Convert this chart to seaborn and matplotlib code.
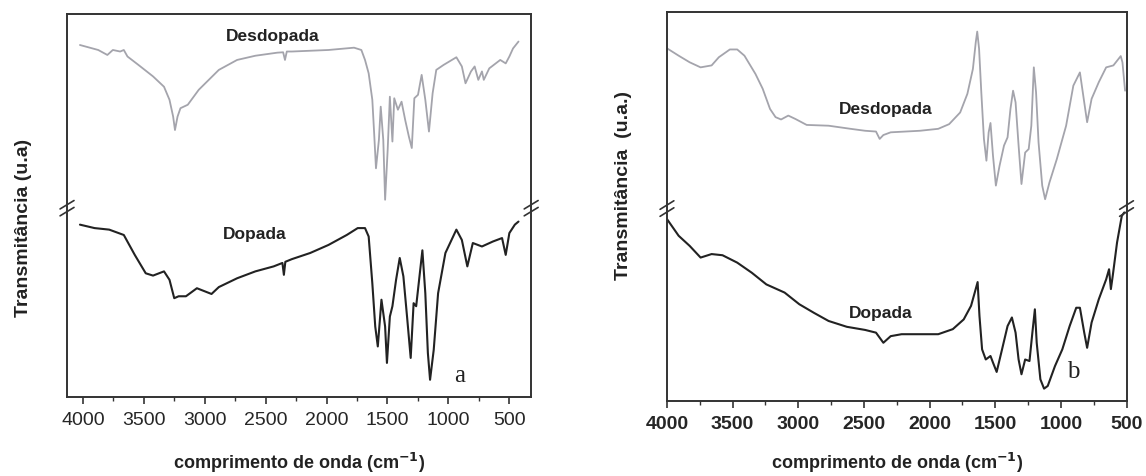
import matplotlib
matplotlib.use("Agg")
import matplotlib.pyplot as plt
import seaborn as sns
import pandas as pd
from matplotlib.ticker import MultipleLocator

# painel a: espectros (transmitancia em u.a., 0-100)
wn_a_desd = [4024, 3874, 3799, 3754, 3694, 3664, 3634, 3544, 3424, 3334, 3289, 3259, 3244, 3223,
             3199, 3139, 3049, 2884, 2734, 2584, 2404, 2356, 2341, 2326, 2284, 1984, 1774, 1714,
             1684, 1654, 1624, 1609, 1594, 1570, 1555, 1534, 1519, 1498, 1480, 1459, 1444, 1414,
             1384, 1354, 1324, 1300, 1279, 1249, 1219, 1189, 1159, 1129, 1099, 1039, 934, 889,
             859, 814, 784, 754, 724, 709, 664, 574, 529, 499, 469, 424]
t_a_desd = [91.9, 90.6, 89.3, 90.6, 90.2, 90.6, 88.9, 86.7, 83.7, 81.0, 77.6, 73.2, 69.7, 73.2,
            75.4, 76.3, 80.2, 85.4, 88.0, 89.1, 89.9, 90.0, 88.0, 90.2, 90.2, 90.6, 91.2, 90.6,
            88.0, 84.5, 77.6, 68.9, 59.7, 67.1, 75.8, 67.1, 51.5, 64.5, 78.4, 66.7, 78.0, 75.0,
            77.1, 72.3, 68.0, 65.0, 78.0, 78.9, 84.1, 77.6, 69.3, 79.3, 85.4, 86.7, 88.7, 86.3,
            81.9, 85.0, 86.3, 82.8, 85.0, 82.8, 85.8, 88.0, 87.1, 88.9, 91.0, 92.8]

wn_a_dop = [4024, 3904, 3784, 3664, 3574, 3484, 3424, 3334, 3289, 3250, 3214, 3154, 3064, 2944,
            2884, 2734, 2584, 2434, 2362, 2350, 2338, 2284, 2134, 1984, 1834, 1744, 1684, 1654,
            1624, 1600, 1579, 1549, 1519, 1504, 1480, 1459, 1429, 1399, 1369, 1339, 1309, 1285,
            1264, 1234, 1213, 1189, 1168, 1150, 1120, 1084, 1024, 934, 889, 844, 799, 724, 634,
            559, 529, 499, 454, 424]
t_a_dop = [45.0, 44.1, 43.7, 42.3, 37.1, 32.3, 31.7, 32.8, 30.6, 25.8, 26.3, 26.3, 28.4, 26.9,
           28.7, 31.0, 32.8, 34.1, 35.0, 31.9, 35.3, 36.0, 37.6, 39.7, 42.3, 44.1, 44.1, 41.9,
           29.7, 18.4, 13.2, 25.4, 18.4, 8.9, 21.0, 23.7, 30.6, 36.3, 31.5, 21.0, 10.2, 24.5,
           23.7, 32.3, 38.3, 27.1, 11.5, 4.5, 12.3, 27.1, 37.6, 43.7, 41.0, 34.1, 40.2, 39.3, 40.6,
           41.5, 37.1, 42.8, 45.0, 45.8]

# painel b
wn_b_desd = [4000, 3911, 3827, 3744, 3660, 3605, 3521, 3465, 3410, 3326, 3271, 3215, 3173, 3131,
             3076, 3020, 2936, 2769, 2602, 2491, 2408, 2380, 2352, 2296, 2073, 1934, 1851, 1767,
             1712, 1670, 1648, 1637, 1623, 1606, 1586, 1567, 1550, 1536, 1517, 1495, 1467, 1433,
             1406, 1384, 1364, 1345, 1322, 1300, 1272, 1245, 1225, 1206, 1189, 1170, 1142, 1120,
             1087, 1031, 960, 905, 855, 822, 800, 766, 711, 655, 600, 544, 531, 511]
t_b_desd = [90.7, 88.8, 87.1, 85.8, 86.3, 88.4, 90.4, 90.4, 88.8, 84.1, 80.3, 75.1, 73.0, 72.4,
            73.4, 72.5, 71.0, 70.8, 70.0, 69.5, 69.3, 67.4, 68.4, 69.1, 69.5, 70.0, 71.2, 74.2,
            79.0, 85.4, 92.3, 95.0, 90.6, 79.4, 67.4, 61.8, 69.1, 71.5, 63.1, 55.4, 60.5, 65.7,
            67.8, 75.1, 79.8, 76.8, 65.7, 55.8, 63.9, 64.8, 70.8, 85.8, 79.4, 66.5, 55.4, 51.9,
            56.2, 62.2, 70.8, 81.1, 84.5, 76.8, 71.7, 77.7, 82.0, 85.8, 86.3, 88.7, 87.1, 79.8]

wn_b_dop = [4000, 3911, 3827, 3744, 3660, 3577, 3465, 3354, 3243, 3104, 2992, 2881, 2769, 2630,
            2491, 2408, 2352, 2296, 2213, 1934, 1823, 1740, 1684, 1656, 1634, 1620, 1600, 1572,
            1536, 1517, 1489, 1448, 1406, 1373, 1345, 1322, 1300, 1272, 1239, 1217, 1198, 1184,
            1156, 1128, 1100, 1045, 989, 933, 883, 855, 822, 800, 766, 711, 655, 633, 619, 605,
            572, 536, 517]
t_b_dop = [46.8, 42.5, 39.9, 36.9, 37.8, 37.5, 35.6, 33.0, 30.0, 27.9, 24.9, 22.7, 20.6, 19.1,
           18.3, 17.6, 15.0, 16.7, 17.2, 17.2, 18.5, 21.0, 24.5, 27.9, 30.6, 21.9, 13.3, 10.7,
           11.6, 9.9, 7.5, 13.3, 19.3, 21.5, 17.6, 10.7, 6.9, 10.7, 10.3, 17.6, 23.6, 15.0,
           5.6, 3.2, 3.9, 9.0, 13.3, 19.3, 24.0, 24.0, 17.6, 13.7, 20.2, 26.2, 31.3, 33.9, 28.8,
           32.2, 40.8, 47.6, 48.5]

xticks = [4000, 3500, 3000, 2500, 2000, 1500, 1000, 500]

sns.set_style("ticks")
plt.rcParams['font.family'] = ['Liberation Sans', 'DejaVu Sans']

fig = plt.figure(figsize=(11.46, 4.77), dpi=100)
ax_a = fig.add_axes([0.0585, 0.1656, 0.405, 0.803])
ax_b = fig.add_axes([0.582, 0.157, 0.401, 0.8155])

cinza = '#a4a4ac'
preto = '#222222'

paineis = [
    (ax_a, wn_a_desd, t_a_desd, wn_a_dop, t_a_dop, (4130, 320), 'normal', 49.3),
    (ax_b, wn_b_desd, t_b_desd, wn_b_dop, t_b_dop, (4000, 500), 'bold', 49.5),
]

for ax, wd, td, wp, tp, xl, peso, ybrk in paineis:
    df_d = pd.DataFrame({'wn': wd, 't': td})
    df_p = pd.DataFrame({'wn': wp, 't': tp})
    sns.lineplot(data=df_d, x='wn', y='t', ax=ax, color=cinza, lw=1.3, estimator=None, sort=False)
    sns.lineplot(data=df_p, x='wn', y='t', ax=ax, color=preto, lw=1.5, estimator=None, sort=False)
    ax.set_xlim(*xl)
    ax.set_ylim(0, 100)
    ax.set_yticks([])
    ax.set_xticks(xticks)
    ax.xaxis.set_minor_locator(MultipleLocator(250))
    ax.tick_params(axis='x', which='major', direction='out', length=5, width=1.2,
                   color='#333333', pad=5, labelsize=14)
    ax.tick_params(axis='x', which='minor', direction='out', length=3, width=1.0, color='#333333')
    for lab in ax.get_xticklabels():
        lab.set_fontweight(peso)
    for sp in ax.spines.values():
        sp.set_visible(True)
        sp.set_color('#333333')
        sp.set_linewidth(1.4)
    ax.set_ylabel('')
    ax.set_xlabel('comprimento de onda (cm$^{\\mathbf{-1}}$)', fontsize=13,
                  fontweight='bold', color='#222222')
    # marcas de quebra no eixo
    yb = ybrk / 100
    for xs in (0, 1):
        for off in (-0.009, 0.009):
            ax.plot([xs - 0.015, xs + 0.015], [yb + off - 0.011, yb + off + 0.011],
                    transform=ax.transAxes, color='#333333', lw=1.2, clip_on=False)

ax_a.xaxis.set_label_coords(0.5, -0.138)
ax_b.xaxis.set_label_coords(0.5, -0.126)

ax_a.text(2440, 94.5, 'Desdopada', ha='center', va='center', fontsize=12.5,
          fontweight='bold', color=preto)
ax_a.text(2593, 42.8, 'Dopada', ha='center', va='center', fontsize=12.5,
          fontweight='bold', color=preto)
ax_a.text(904, 5.8, 'a', ha='center', va='center', fontsize=18, color=preto,
          family=['Liberation Serif', 'DejaVu Serif'])
ax_b.text(2332, 75.1, 'Desdopada', ha='center', va='center', fontsize=12.5,
          fontweight='bold', color=preto)
ax_b.text(2374, 22.7, 'Dopada', ha='center', va='center', fontsize=12.5,
          fontweight='bold', color=preto)
ax_b.text(904, 7.7, 'b', ha='center', va='center', fontsize=18, color=preto,
          family=['Liberation Serif', 'DejaVu Serif'])

fig.text(24 / 1146, 1 - 228 / 477, 'Transmitância (u.a)', rotation=90, ha='center',
         va='center', fontsize=14, fontweight='bold', color='#222222')
fig.text(623 / 1146, 1 - 185 / 477, 'Transmitância  (u.a.)', rotation=90, ha='center',
         va='center', fontsize=14, fontweight='bold', color='#222222')

fig.savefig('out.png', dpi=100)
